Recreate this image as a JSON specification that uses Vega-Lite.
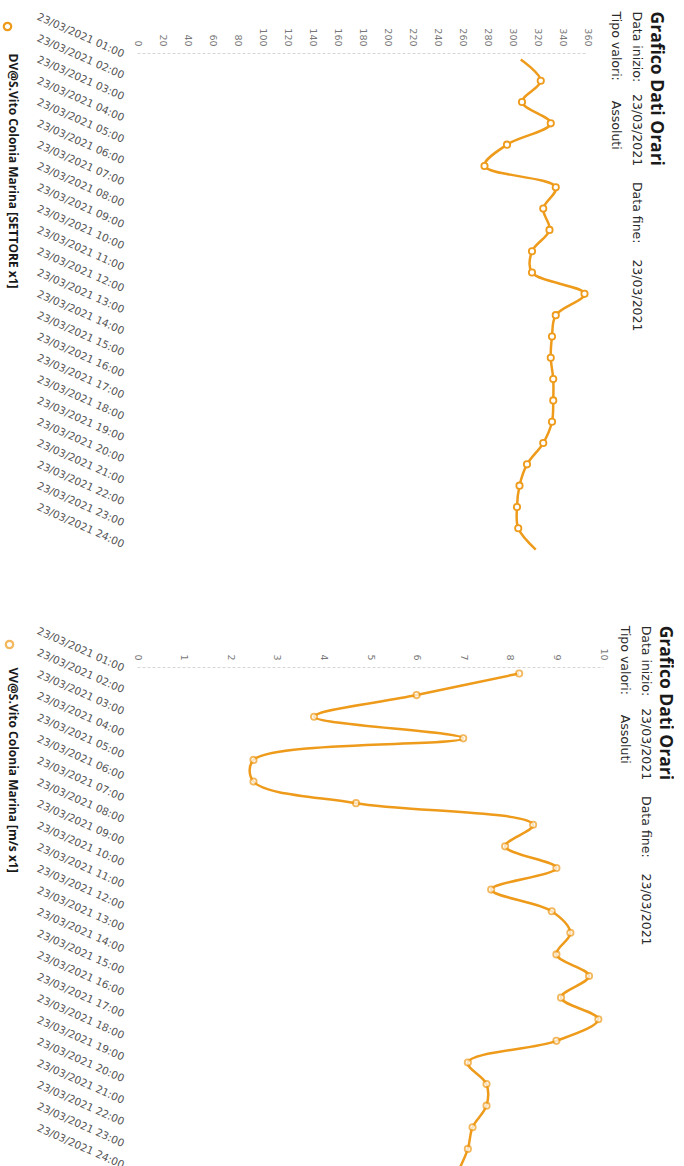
{
  "$schema": "https://vega.github.io/schema/vega-lite/v6.json",
  "background": "white",
  "padding": {"left": 2, "top": 11, "right": 0, "bottom": 0},
  "spacing": 69,
  "resolve": {"scale": {"color": "independent"}, "legend": {"color": "independent"}},
  "config": {
    "view": {"stroke": null},
    "axisY": {"labelAngle": 24, "labelAlign": "right", "labelBaseline": "middle", "labelFont": "DejaVu Sans", "labelFontSize": 10.5, "labelColor": "#555555", "labelPadding": 14, "labelOffset": -5, "domain": false, "ticks": false, "grid": false,
      "titleAngle": 90, "titleAnchor": "start", "titleAlign": "left", "titleBaseline": "top", "titlePadding": 17, "titleFont": "Open Sans", "titleFontSize": 12, "titleFontWeight": "bold", "titleColor": "#1a1a1a"},
    "axisX": {"labelAngle": 90, "labelAlign": "right", "labelBaseline": "middle", "labelFont": "DejaVu Sans", "labelFontSize": 9.5, "labelColor": "#777777", "labelPadding": 7, "domain": true, "domainColor": "#d6d6d6", "domainDash": [3, 2], "domainWidth": 1, "ticks": false, "grid": false},
    "title": {"orient": "right", "anchor": "start", "font": "Open Sans", "fontSize": 17.5, "fontWeight": "bold", "color": "#1a1a1a", "subtitleFont": "DejaVu Sans", "subtitleFontSize": 12.5, "subtitleColor": "#2a2a2a", "subtitlePadding": 5, "subtitleLineHeight": 21}
  },
  "datasets": {
    "orari": [
      {"ora": "23/03/2021 01:00", "dv": 307, "vv": 8.2},
      {"ora": "23/03/2021 02:00", "dv": 323, "vv": 6.0},
      {"ora": "23/03/2021 03:00", "dv": 308, "vv": 3.8},
      {"ora": "23/03/2021 04:00", "dv": 331, "vv": 7.0},
      {"ora": "23/03/2021 05:00", "dv": 296, "vv": 2.5},
      {"ora": "23/03/2021 06:00", "dv": 278, "vv": 2.5},
      {"ora": "23/03/2021 07:00", "dv": 335, "vv": 4.7},
      {"ora": "23/03/2021 08:00", "dv": 325, "vv": 8.5},
      {"ora": "23/03/2021 09:00", "dv": 330, "vv": 7.9},
      {"ora": "23/03/2021 10:00", "dv": 316, "vv": 9.0},
      {"ora": "23/03/2021 11:00", "dv": 316, "vv": 7.6},
      {"ora": "23/03/2021 12:00", "dv": 358, "vv": 8.9},
      {"ora": "23/03/2021 13:00", "dv": 335, "vv": 9.3},
      {"ora": "23/03/2021 14:00", "dv": 332, "vv": 9.0},
      {"ora": "23/03/2021 15:00", "dv": 331, "vv": 9.7},
      {"ora": "23/03/2021 16:00", "dv": 333, "vv": 9.1},
      {"ora": "23/03/2021 17:00", "dv": 333, "vv": 9.9},
      {"ora": "23/03/2021 18:00", "dv": 332, "vv": 9.0},
      {"ora": "23/03/2021 19:00", "dv": 325, "vv": 7.1},
      {"ora": "23/03/2021 20:00", "dv": 312, "vv": 7.5},
      {"ora": "23/03/2021 21:00", "dv": 306, "vv": 7.5},
      {"ora": "23/03/2021 22:00", "dv": 304, "vv": 7.2},
      {"ora": "23/03/2021 23:00", "dv": 305, "vv": 7.1},
      {"ora": "23/03/2021 24:00", "dv": 319, "vv": 6.9}
    ]
  },
  "vconcat": [
    {
      "width": 450,
      "height": 503,
      "title": {
        "text": "Grafico Dati Orari",
        "subtitle": ["Data inizio:\u00a0\u00a0\u00a023/03/2021\u00a0\u00a0\u00a0\u00a0Data fine:\u00a0\u00a0\u00a0\u00a023/03/2021", "Tipo valori:\u00a0\u00a0\u00a0\u00a0\u00a0Assoluti"],
        "orient": "right", "anchor": "start", "offset": 17
      },
      "data": {"name": "orari"},
      "encoding": {
        "y": {"field": "ora", "type": "ordinal", "sort": null, "title": "DV@S.Vito Colonia Marina [SETTORE x1]", "scale": {"padding": 0.3}},
        "x": {"field": "dv", "type": "quantitative", "title": null, "scale": {"domain": [0, 360], "nice": false}, "axis": {"orient": "top", "values": [0, 20, 40, 60, 80, 100, 120, 140, 160, 180, 200, 220, 240, 260, 280, 300, 320, 340, 360]}}
      },
      "layer": [
        {"mark": {"type": "line", "interpolate": "catmull-rom", "color": "#EE9B1B", "strokeWidth": 2.5}},
        {
          "mark": {"type": "point", "fill": "white", "strokeWidth": 1.8, "size": 40},
          "encoding": {
            "opacity": {"condition": {"test": "datum.ora == '23/03/2021 01:00' || datum.ora == '23/03/2021 24:00'", "value": 0}, "value": 1},
            "color": {
              "datum": "DV@S.Vito Colonia Marina [SETTORE x1]",
              "scale": {"range": ["#EE9B1B"]},
              "legend": {"orient": "none", "legendX": -135, "legendY": -32, "title": null, "labelExpr": "''", "padding": 0, "symbolType": "circle", "symbolSize": 55, "symbolStrokeWidth": 2.2, "symbolFillColor": "white", "symbolStrokeColor": "#EE9B1B", "labelFontSize": 11}
            }
          }
        }
      ]
    },
    {
      "width": 466,
      "height": 510,
      "title": {
        "text": "Grafico Dati Orari",
        "subtitle": ["Data inizio:\u00a0\u00a0\u00a023/03/2021\u00a0\u00a0\u00a0\u00a0Data fine:\u00a0\u00a0\u00a0\u00a023/03/2021", "Tipo valori:\u00a0\u00a0\u00a0\u00a0\u00a0Assoluti"],
        "orient": "right", "anchor": "start", "offset": 10
      },
      "data": {"name": "orari"},
      "encoding": {
        "y": {"field": "ora", "type": "ordinal", "sort": null, "title": "VV@S.Vito Colonia Marina [m/s x1]", "scale": {"padding": 0.3}},
        "x": {"field": "vv", "type": "quantitative", "title": null, "scale": {"domain": [0, 10], "nice": false}, "axis": {"orient": "top", "values": [0, 1, 2, 3, 4, 5, 6, 7, 8, 9, 10]}}
      },
      "layer": [
        {"mark": {"type": "line", "interpolate": "catmull-rom", "color": "#EE9B1B", "strokeWidth": 2.5}},
        {
          "mark": {"type": "point", "fill": "white", "strokeWidth": 1.8, "size": 40},
          "encoding": {
            "color": {
              "datum": "VV@S.Vito Colonia Marina [m/s x1]",
              "scale": {"range": ["#EE9B1B"]},
              "legend": {"orient": "none", "legendX": -133, "legendY": -28, "title": null, "labelExpr": "''", "padding": 0, "symbolType": "circle", "symbolSize": 55, "symbolStrokeWidth": 2.2, "symbolFillColor": "white", "symbolStrokeColor": "#EE9B1B", "labelFontSize": 11}
            }
          }
        }
      ]
    }
  ]
}
